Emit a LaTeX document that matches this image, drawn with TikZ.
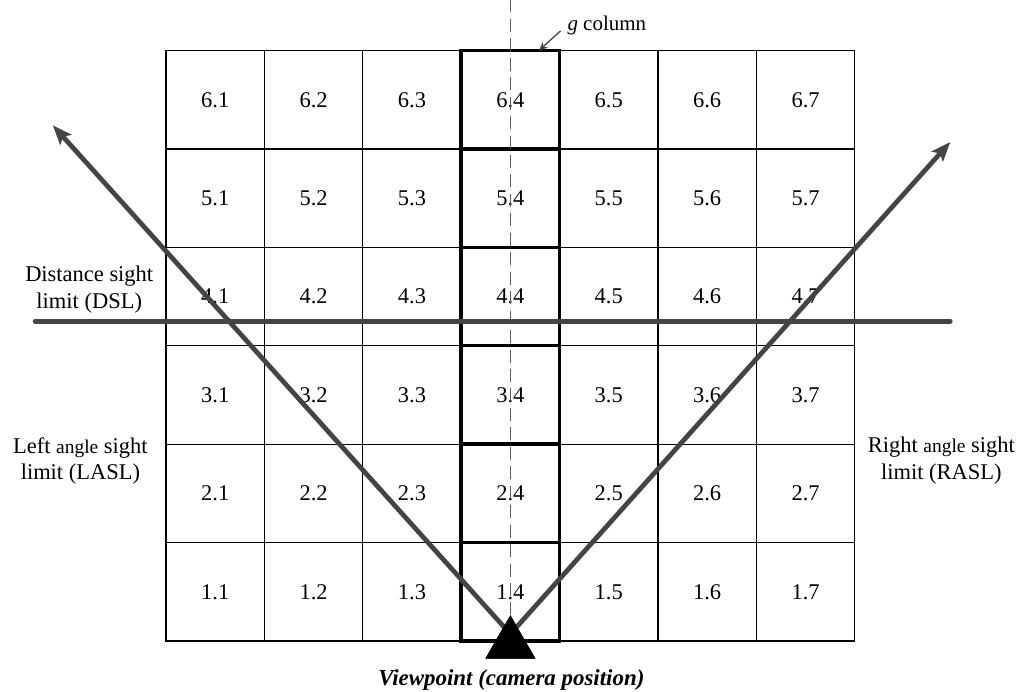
\documentclass[tikz,border=0pt]{standalone}
\usepackage{fontspec}
\setmainfont{Liberation Serif}
\usetikzlibrary{arrows.meta,shapes.geometric}
\definecolor{slGray}  {RGB}{ 68, 68, 68}
\definecolor{dashGray}{RGB}{ 90, 90, 90}

\begin{document}
\begin{tikzpicture}[x=1.6cm,y=1.6cm,
  every node/.style={font=\fontsize{10.4}{12.4}\selectfont},
  cell/.style={draw,line width=0.6pt,minimum size=1.6cm,inner sep=0pt},
  gcell/.style={cell,line width=1.6pt},
  sight/.style={draw=slGray,line width=2.2pt,
                -{Stealth[length=9pt,width=7pt,inset=2pt]}},
  limit/.style={draw=slGray,line width=2.2pt,line cap=round},
  side/.style={align=center},
  camera/.style={regular polygon,regular polygon sides=3,fill=black,
                 minimum size=0.942cm,inner sep=0pt}
]
\useasboundingbox (-1.687,-0.518) rectangle (8.669,6.514);
% grid cells (row.column)
\foreach \c in {1,2,3,5,6,7}
  \foreach \r in {1,...,6}
    \node[cell] (c\r\c) at (\c-0.5,\r-0.5) {\r.\c};
% g column drawn on top
\foreach \r in {1,...,6}
  \node[gcell] (c\r4) at (3.5,\r-0.5) {\r.4};
% camera
\node[camera] (cam) at (3.5,-0.033) {};
\node[font=\bfseries\itshape\fontsize{10.6}{12.6}\selectfont] (vp) at (3.51,-0.40)
   {Viewpoint (camera position)};
% centre line of g column
\coordinate (gtop) at (3.5,6.52);
\draw[draw=dashGray,line width=0.6pt,dash pattern=on 6pt off 3pt] (gtop) -- (cam.north);
\node[font=\fontsize{9.7}{11}\selectfont] (gcol) at (4.48,6.26) {\textit{g} column};
\coordinate (gtail) at (4.01,6.2);
\coordinate (gtip)  at (3.79,6.0);
\draw[draw=slGray,line width=0.6pt,-{Stealth[length=4pt,width=3.5pt]}] (gtail) -- (gtip);
% sight limits
\coordinate (eye)  at (3.5,0.07);
\coordinate (lasl) at (-1.15,5.24);
\coordinate (rasl) at (7.97,5.07);
\coordinate (dslL) at (-1.33,3.25);
\coordinate (dslR) at (7.97,3.25);
\draw[limit] (dslL) -- (dslR);
\draw[sight] (eye) -- (lasl);
\draw[sight] (eye) -- (rasl);
\node[camera] at (cam) {};
% labels
\node[side] (dsl)  at (-0.78,3.57) {Distance sight\\limit (DSL)};
\node[side] (lasltxt) at (-0.87,1.83) {Left {\small angle} sight\\limit (LASL)};
\node[side] (rasltxt) at (7.88,1.83) {Right {\small angle} sight\\limit (RASL)};
\end{tikzpicture}
\end{document}
